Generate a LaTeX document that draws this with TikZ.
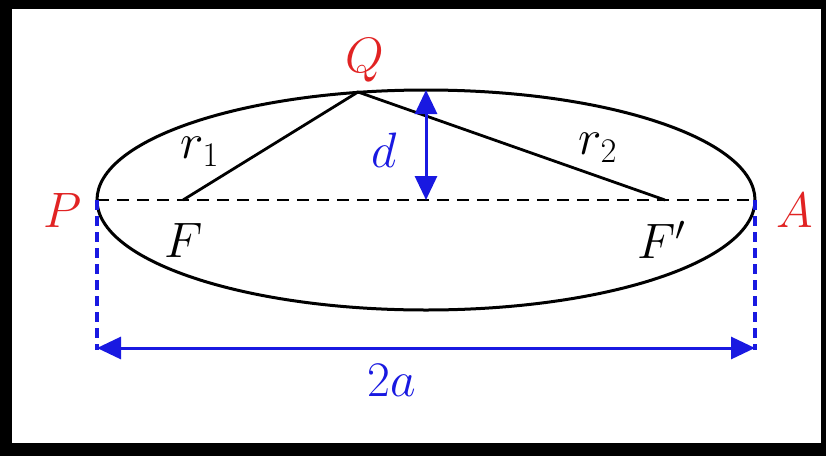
\documentclass[tikz,border=0pt]{standalone}
\usepackage{xcolor}
\usetikzlibrary{arrows.meta, positioning, calc}

\definecolor{ptred}{RGB}{225,35,35}
\definecolor{dimblue}{RGB}{25,25,225}

\tikzset{
  ptlabel/.style={text=ptred, font=\fontsize{27}{27}\selectfont, inner sep=0pt},
  blacklabel/.style={text=black, font=\fontsize{27}{27}\selectfont, inner sep=0pt},
  bluelabel/.style={text=dimblue, font=\fontsize{27}{27}\selectfont, inner sep=0pt},
  dimarrow/.style={draw=dimblue, line width=1.5pt, {Triangle[length=12pt,width=11pt]}-{Triangle[length=12pt,width=11pt]}},
  guide/.style={draw=dimblue, line width=1.7pt, dash pattern=on 5pt off 3pt}
}

\begin{document}
\begin{tikzpicture}[x=0.5pt, y=-0.5pt]
  % frame
  \fill[black] (0,0) rectangle (826,456);
  \fill[white] (12,9) rectangle (821,443);
  \useasboundingbox (0,0) rectangle (826,456);

  % points
  \coordinate (O) at (426,200);
  \coordinate (P) at (97,200);
  \coordinate (A) at (755,200);
  \coordinate (F) at (183,200);
  \coordinate (Fp) at (665,200);
  \coordinate (Q) at (358,92);
  \coordinate (top) at (426,90);
  \coordinate (Pd) at (97,348);
  \coordinate (Ad) at (755,348);

  % ellipse and axis
  \draw[line width=1.5pt] (O) ellipse [x radius=329, y radius=110];
  \draw[line width=1.4pt, dash pattern=on 6pt off 4pt] (P) -- (A);
  \draw[line width=1.4pt] (F) -- (Q) -- (Fp);

  % dimensions
  \draw[dimarrow] (top) -- (O);
  \draw[guide] (P) -- ($(Pd)+(0,2)$);
  \draw[guide] (A) -- ($(Ad)+(0,2)$);
  \draw[dimarrow] (Pd) -- (Ad);

  % labels
  \node[ptlabel] (Qlab) at (365,60) {$Q$};
  \node[ptlabel] (Plab) at (63,210) {$P$};
  \node[ptlabel] (Alab) at (795,210) {$A$};
  \node[blacklabel] (Flab) at (184,240) {$F$};
  \node[blacklabel] (Fplab) at (662,240) {$F'$};
  \node[blacklabel] (r1) at (200,152) {$r_1$};
  \node[blacklabel] (r2) at (598,148) {$r_2$};
  \node[bluelabel] (dlab) at (384,150) {$d$};
  \node[bluelabel] (twoa) at (392,380) {$2a$};
\end{tikzpicture}
\end{document}
